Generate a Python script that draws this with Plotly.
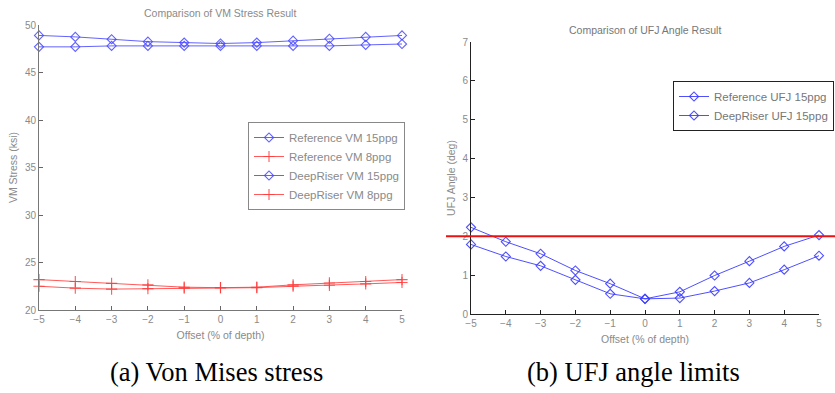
import plotly.graph_objects as go

offset = [-5, -4, -3, -2, -1, 0, 1, 2, 3, 4, 5]

ref_vm_15 = [48.9, 48.75, 48.5, 48.25, 48.15, 48.05, 48.15, 48.35, 48.55, 48.75, 48.9]
ref_vm_8 = [23.2, 23.0, 22.8, 22.65, 22.4, 22.35, 22.4, 22.65, 22.85, 23.0, 23.2]
deep_vm_15 = [47.7, 47.7, 47.8, 47.8, 47.8, 47.8, 47.8, 47.8, 47.8, 47.9, 48.0]
deep_vm_8 = [22.5, 22.3, 22.2, 22.25, 22.3, 22.35, 22.35, 22.5, 22.6, 22.75, 22.9]

ref_ufj_15 = [2.23, 1.86, 1.55, 1.12, 0.78, 0.39, 0.57, 0.99, 1.36, 1.74, 2.03]
deep_ufj_15 = [1.79, 1.48, 1.24, 0.88, 0.52, 0.39, 0.41, 0.59, 0.80, 1.14, 1.50]
ufj_limit = 2.0

W, H = 835, 393
def px(x):
    return x / W
def py(y):
    return 1 - y / H

blue = "rgba(70,70,255,0.85)"
red = "rgba(255,60,60,0.85)"
gray = "#8a8a8a"
font_family = "Liberation Sans, Arial, sans-serif"

fig = go.Figure()

def add(x, y, name, color, symbol, xa, ya, legend, msize):
    fig.add_trace(go.Scatter(
        x=x, y=y, name=name, mode="lines+markers",
        line=dict(color=color, width=1),
        marker=dict(symbol=symbol, size=msize, color=color,
                    line=dict(color=color, width=1.1)),
        xaxis=xa, yaxis=ya, legend=legend, cliponaxis=False))

add(offset, ref_vm_15, "Reference VM 15ppg", blue, "diamond-open", "x", "y", "legend", 7)
add(offset, ref_vm_8, "Reference VM 8ppg", red, "cross-thin-open", "x", "y", "legend", 8)
add(offset, deep_vm_15, "DeepRiser VM 15ppg", blue, "diamond-open", "x", "y", "legend", 7)
add(offset, deep_vm_8, "DeepRiser VM 8ppg", red, "cross-thin-open", "x", "y", "legend", 8)

add(offset, ref_ufj_15, "Reference UFJ 15ppg", "rgba(60,60,255,0.9)", "diamond-open", "x2", "y2", "legend2", 7)
add(offset, deep_ufj_15, "DeepRiser UFJ 15ppg", "rgba(60,60,255,0.9)", "diamond-open", "x2", "y2", "legend2", 7)

fig.add_shape(type="line", xref="paper", yref="y2",
              x0=px(446), x1=1.0, y0=ufj_limit, y1=ufj_limit,
              line=dict(color="#ee1111", width=2))

tickfont = dict(family=font_family, size=10, color=gray)
titlefont = dict(family=font_family, size=10.5, color=gray)

def ann(text, x, y, size, color, family=font_family):
    return dict(text=text, x=px(x), y=py(y), xref="paper", yref="paper",
                xanchor="center", yanchor="middle", showarrow=False,
                font=dict(family=family, size=size, color=color))

fig.update_layout(
    width=W, height=H,
    margin=dict(l=0, r=0, t=0, b=0),
    paper_bgcolor="white", plot_bgcolor="white",
    showlegend=True,
    xaxis=dict(domain=[px(39), px(402)], range=[-5, 5], anchor="y", automargin=False,
               tickmode="array", tickvals=offset,
               ticks="inside", ticklen=4, tickcolor="#666",
               showline=True, linecolor="#777", linewidth=1,
               showgrid=False, zeroline=False, tickfont=tickfont,
               title=dict(text="Offset (% of depth)", font=titlefont, standoff=7)),
    yaxis=dict(domain=[py(310), py(25)], range=[20, 50], anchor="x", automargin=False,
               tickmode="array", tickvals=[20, 25, 30, 35, 40, 45, 50],
               ticks="inside", ticklen=4, tickcolor="#666",
               showline=True, linecolor="#777", linewidth=1,
               showgrid=False, zeroline=False, tickfont=tickfont,
               title=dict(text="VM Stress (ksi)", font=titlefont, standoff=5)),
    xaxis2=dict(domain=[px(471), px(819)], range=[-5, 5], anchor="y2", automargin=False,
                tickmode="array", tickvals=offset,
                ticks="inside", ticklen=4, tickcolor="#222",
                showline=True, linecolor="#222", linewidth=1,
                showgrid=False, zeroline=False, tickfont=tickfont,
                title=dict(text="Offset (% of depth)", font=titlefont, standoff=7)),
    yaxis2=dict(domain=[py(314), py(42)], range=[0, 7], anchor="x2", automargin=False,
                tickmode="array", tickvals=[0, 1, 2, 3, 4, 5, 6, 7],
                ticks="inside", ticklen=4, tickcolor="#222",
                showline=True, linecolor="#222", linewidth=1,
                showgrid=False, zeroline=False, tickfont=tickfont,
                title=dict(text="UFJ Angle (deg)", font=titlefont, standoff=4)),
    legend=dict(x=px(248), y=py(122), xanchor="left", yanchor="top",
                bgcolor="white", bordercolor="#888", borderwidth=1,
                font=dict(family=font_family, size=11.5, color=gray),
                tracegroupgap=0, itemwidth=30),
    legend2=dict(x=px(673), y=py(81), xanchor="left", yanchor="top",
                 bgcolor="white", bordercolor="#222", borderwidth=1,
                 font=dict(family=font_family, size=11.5, color="#777"),
                 tracegroupgap=0, itemwidth=30),
    annotations=[
        ann("Comparison of VM Stress Result", 220, 13, 10.5, gray),
        ann("Comparison of UFJ Angle Result", 645, 30, 10.5, "#777"),
        ann("(a) Von Mises stress", 216, 372, 26.5, "black",
            "Liberation Serif, Times New Roman, serif"),
        ann("(b) UFJ angle limits", 633, 372, 26.5, "black",
            "Liberation Serif, Times New Roman, serif"),
    ],
)

fig.write_html("out.html")
